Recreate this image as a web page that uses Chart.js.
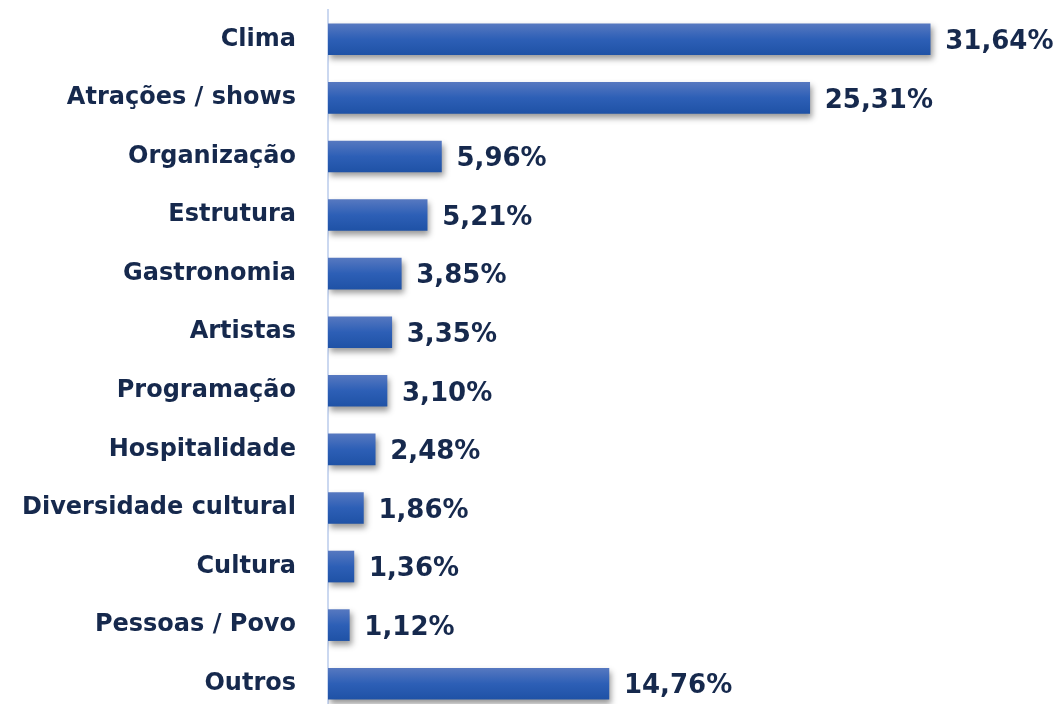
<!DOCTYPE html>
<html>
<head>
<meta charset="utf-8">
<script src="https://cdn.jsdelivr.net/npm/chart.js@4.4.0/dist/chart.umd.min.js"></script>
<style>
  html, body { margin: 0; padding: 0; background: #fff; overflow: hidden; }
  #chart { display: block; }
</style>
</head>
<body>
<canvas id="chart" width="1061" height="716"></canvas>
<script>
// data
var categories = ["Clima", "Atrações / shows", "Organização", "Estrutura", "Gastronomia", "Artistas",
  "Programação", "Hospitalidade", "Diversidade cultural", "Cultura", "Pessoas / Povo", "Outros"];
var values = [31.64, 25.31, 5.96, 5.21, 3.85, 3.35, 3.10, 2.48, 1.86, 1.36, 1.12, 14.76];

var textColor = "#16294d";
var fontFamily = "'DejaVu Sans', Inter, sans-serif";

function fmt(v) {
  return v.toFixed(2).replace(".", ",") + "%";
}

// gradient per bar, computed from the bar's own position on the y scale
function barFill(ctx) {
  var chart = ctx.chart;
  if (!chart.chartArea || !chart.scales.y) return "#2c5db5";
  var yc = chart.scales.y.getPixelForValue(ctx.dataIndex);
  var g = chart.ctx.createLinearGradient(0, yc - 15.5, 0, yc + 15.5);
  g.addColorStop(0, "#5678c0");
  g.addColorStop(0.5, "#2d5fb6");
  g.addColorStop(1, "#1f52a6");
  return g;
}

// drop shadow under the bars
var barShadow = {
  id: "barShadow",
  beforeDatasetsDraw: function(chart) {
    var c = chart.ctx;
    c.save();
    c.shadowColor = "rgba(0,0,0,0.4)";
    c.shadowBlur = 6;
    c.shadowOffsetX = 2;
    c.shadowOffsetY = 4;
  },
  afterDatasetsDraw: function(chart) {
    chart.ctx.restore();
  }
};

// value labels right of each bar
var valueLabels = {
  id: "valueLabels",
  afterDraw: function(chart) {
    var c = chart.ctx;
    var meta = chart.getDatasetMeta(0);
    c.save();
    c.fillStyle = textColor;
    c.font = "bold 26px " + fontFamily;
    c.textAlign = "left";
    c.textBaseline = "middle";
    meta.data.forEach(function(bar, i) {
      c.fillText(fmt(values[i]), bar.x + 15, bar.y + 3);
    });
    c.restore();
  }
};

var chart = new Chart(document.getElementById("chart").getContext("2d"), {
  type: "bar",
  data: {
    labels: categories,
    datasets: [{
      data: values,
      backgroundColor: barFill,
      borderWidth: 0,
      barThickness: 31
    }]
  },
  options: {
    indexAxis: "y",
    responsive: false,
    animation: false,
    layout: { padding: { top: 10, bottom: 3, right: 5, left: 0 } },
    plugins: {
      legend: { display: false },
      tooltip: { enabled: false }
    },
    scales: {
      x: {
        display: false,
        min: 0,
        max: 38.25
      },
      y: {
        afterFit: function(scale) {
          scale.width = 328;
          scale.paddingTop = 0;
          scale.paddingBottom = 0;
        },
        grid: { display: false },
        border: { display: true, color: "#cbd8f0", width: 2 },
        ticks: {
          color: textColor,
          padding: 24,
          font: { family: fontFamily, size: 24, weight: "bold" }
        }
      }
    }
  },
  plugins: [barShadow, valueLabels]
});
</script>
</body>
</html>
